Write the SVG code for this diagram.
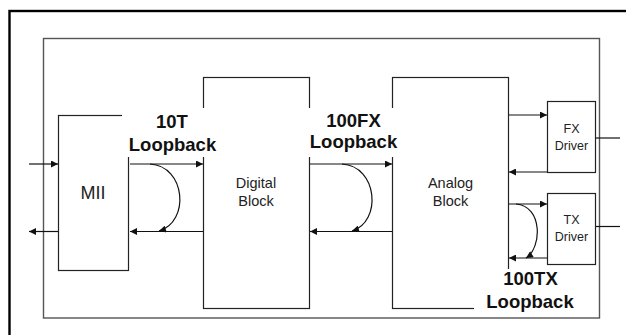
<svg xmlns="http://www.w3.org/2000/svg" width="626" height="335" viewBox="0 0 626 335">
<defs>
<style>
.box{fill:#fff;stroke:#222;stroke-width:1.2}
.frame{fill:none;stroke:#555;stroke-width:1.4}
.ln{fill:none;stroke:#111;stroke-width:1.2}
.t{font-family:"Liberation Sans",Arial,sans-serif;fill:#222;text-anchor:middle}
.lb{font-family:"Liberation Sans",Arial,sans-serif;font-weight:bold;font-size:18.5px;fill:#111;text-anchor:middle}
.bg{fill:#fff;stroke:none}
</style>
<marker id="ah" viewBox="0 0 10 10" refX="10" refY="5" markerWidth="8" markerHeight="7" markerUnits="userSpaceOnUse" orient="auto">
<path d="M0,0L10,5L0,10z" fill="#111"/>
</marker>
</defs>
<rect x="0" y="0" width="626" height="335" fill="#fff"/>
<rect x="9.5" y="11" width="640" height="340" fill="none" stroke="#000" stroke-width="2.4"/>
<rect class="frame" x="43.5" y="38.5" width="556" height="279.5"/>

<g id="mii"><rect class="box" x="58.5" y="115.5" width="70" height="155"/><text class="t" x="93" y="199" font-size="18">MII</text></g>
<g id="digital"><rect class="box" x="203.5" y="77.5" width="106" height="231"/><text class="t" x="256" y="188" font-size="14.5">Digital</text><text class="t" x="256" y="206" font-size="14.5">Block</text></g>
<g id="analog"><rect class="box" x="392.5" y="77.5" width="116" height="231"/><text class="t" x="450.5" y="188" font-size="14.5">Analog</text><text class="t" x="450.5" y="206" font-size="14.5">Block</text></g>
<g id="fx"><rect class="box" x="547.5" y="101.5" width="48" height="71"/><text class="t" x="571.5" y="133" font-size="12.5">FX</text><text class="t" x="571.5" y="150" font-size="12.5">Driver</text></g>
<g id="tx"><rect class="box" x="547.5" y="193.5" width="48" height="71"/><text class="t" x="571.5" y="224" font-size="12.5">TX</text><text class="t" x="571.5" y="241" font-size="12.5">Driver</text></g>

<g id="labels">
<rect class="bg" x="122" y="108" width="85" height="49"/>
<rect class="bg" x="304" y="108" width="98" height="49"/>
<rect class="bg" x="474" y="269" width="100" height="44"/>
<text class="lb" x="172" y="128">10T</text><text class="lb" x="172.5" y="151">Loopback</text>
<text class="lb" x="353.5" y="127">100FX</text><text class="lb" x="353.5" y="148">Loopback</text>
<text class="lb" x="530.5" y="285">100TX</text><text class="lb" x="530" y="308">Loopback</text>
</g>

<g id="connectors">
<path class="ln" d="M29,164H58" marker-end="url(#ah)"/>
<path class="ln" d="M58,231.5H29" marker-end="url(#ah)"/>
<path class="ln" d="M130,164H203" marker-end="url(#ah)"/>
<path class="ln" d="M203,231.5H130" marker-end="url(#ah)"/>
<path class="ln" d="M150,164C186,166 190,222 159,231" marker-end="url(#ah)"/>
<path class="ln" d="M310,164H392" marker-end="url(#ah)"/>
<path class="ln" d="M392,231.5H310" marker-end="url(#ah)"/>
<path class="ln" d="M342,164C378,166 382,222 352,231" marker-end="url(#ah)"/>
<path class="ln" d="M509,115H547" marker-end="url(#ah)"/>
<path class="ln" d="M547,172H509" marker-end="url(#ah)"/>
<path class="ln" d="M596,138H620"/>
<path class="ln" d="M509,204H547" marker-end="url(#ah)"/>
<path class="ln" d="M547,258H509" marker-end="url(#ah)"/>
<path class="ln" d="M596,226.5H620"/>
<path class="ln" d="M516,204C543,206 542,248 526,258" marker-end="url(#ah)"/>
</g>
</svg>
